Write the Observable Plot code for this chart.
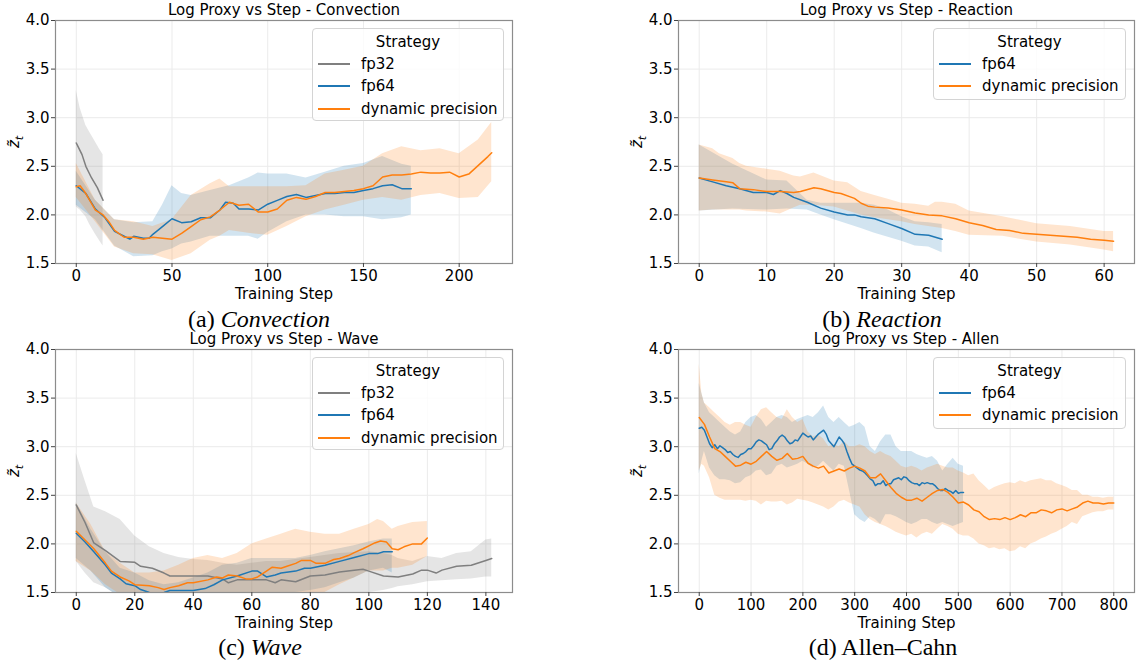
<!DOCTYPE html>
<html><head><meta charset="utf-8">
<script src="https://cdn.jsdelivr.net/npm/d3@7"></script>
<script src="https://cdn.jsdelivr.net/npm/@observablehq/plot@0.6"></script>
<style>
html,body{margin:0;padding:0;background:#fff;}
#root{position:relative;width:1137px;height:664px;overflow:hidden;font-family:"DejaVu Sans";color:#000;}
.panel{position:absolute;}
.legend{position:absolute;box-sizing:border-box;border:1px solid #d4d4d4;border-radius:4px;background:rgba(255,255,255,0.8);font-size:15px;font-family:"DejaVu Sans";}
.lg-title{position:absolute;left:0;width:100%;text-align:center;transform:translateY(-50%);white-space:nowrap;}
.lg-sw{position:absolute;height:0;border-top:2px solid;transform:translateY(-1px);}
.lg-tx{position:absolute;transform:translateY(-50%);white-space:nowrap;}
.ylab{position:absolute;font-family:"DejaVu Sans";font-style:italic;font-size:15px;transform:translate(-50%,-50%) rotate(-90deg);white-space:nowrap;}
.ylab sub{font-size:11px;}
.cap{position:absolute;font-family:"Liberation Serif","Times New Roman",serif;font-size:24px;transform:translate(-50%,-50%);white-space:nowrap;}
</style></head>
<body><div id="root"></div>
<script>
// ---------- shared ----------
const strategies = ["fp32", "fp64", "dynamic precision"];
const colors = {"fp32": "#7f7f7f", "fp64": "#1f77b4", "dynamic precision": "#ff7f0e"};
const yTicks = [1.5, 2.0, 2.5, 3.0, 3.5, 4.0];

// ---------- (a) Convection ----------
const convTicks = [0, 50, 100, 150, 200];
const convFp32Steps = [0, 1, 3, 5, 8, 11, 14];
const convFp32Mean = [2.74, 2.70, 2.62, 2.50, 2.38, 2.28, 2.15];
const convFp32BandSteps = [0, 2, 5, 7, 10, 12, 14];
const convFp32Hi = [3.28, 3.10, 2.92, 2.85, 2.75, 2.68, 2.62];
const convFp32Lo = [2.08, 2.05, 1.98, 1.90, 1.80, 1.74, 1.68];

const convFp64Steps = [0,5,10,15,20,25,28,30,35,38,40,45,50,55,60,65,70,75,78,82,85,90,95,100,105,110,115,120,125,130,135,140,145,150,155,160,165,170,175];
const convFp64Mean = [2.30,2.22,2.06,1.97,1.83,1.78,1.75,1.78,1.76,1.76,1.80,1.88,1.96,1.92,1.93,1.97,1.97,2.05,2.13,2.12,2.06,2.06,2.05,2.11,2.15,2.19,2.21,2.18,2.20,2.22,2.22,2.23,2.23,2.25,2.27,2.30,2.31,2.27,2.27];
const convFp64BandSteps = [0,10,20,30,40,45,50,55,60,70,80,90,95,100,110,120,130,140,150,160,170,175];
const convFp64Hi = [2.45,2.15,1.95,1.92,1.93,2.10,2.30,2.22,2.20,2.25,2.30,2.38,2.43,2.42,2.42,2.38,2.44,2.50,2.53,2.60,2.52,2.50];
const convFp64Lo = [2.10,1.95,1.68,1.57,1.58,1.62,1.65,1.70,1.72,1.78,1.78,1.78,1.75,1.82,1.93,2.00,2.00,1.98,1.98,1.95,1.97,2.00];

const convDynSteps = [0,2,5,10,14,17,20,25,30,35,40,45,50,55,60,65,70,75,80,85,90,95,100,105,110,115,120,125,130,135,140,145,150,155,160,165,170,175,180,185,190,195,200,205,210,215,217];
const convDynMean = [2.29,2.30,2.22,2.05,2.00,1.93,1.84,1.77,1.77,1.75,1.77,1.76,1.75,1.81,1.88,1.95,1.98,2.05,2.13,2.10,2.11,2.03,2.03,2.06,2.15,2.18,2.16,2.19,2.23,2.23,2.24,2.25,2.27,2.30,2.39,2.41,2.41,2.42,2.44,2.43,2.43,2.44,2.39,2.42,2.51,2.60,2.64];
const convDynBandSteps = [0,10,20,30,40,50,60,70,75,80,90,100,110,120,130,140,150,160,170,180,190,200,210,217];
const convDynHi = [2.53,2.15,1.95,1.93,1.88,1.95,2.20,2.32,2.37,2.29,2.29,2.29,2.29,2.30,2.42,2.46,2.50,2.63,2.70,2.66,2.68,2.63,2.77,2.95];
const convDynLo = [2.18,1.93,1.67,1.60,1.59,1.53,1.60,1.74,1.78,1.84,1.81,1.79,1.88,1.98,2.05,2.10,2.15,2.18,2.15,2.20,2.22,2.17,2.18,2.34];

// ---------- (b) Reaction ----------
const reacTicks = [0, 10, 20, 30, 40, 50, 60];
const reacFp64Steps = [0,2,4,6,8,10,11,12,13,14,16,18,20,22,23,24,26,28,30,32,34,36];
const reacFp64Mean = [2.38,2.34,2.30,2.27,2.23,2.23,2.21,2.25,2.22,2.18,2.13,2.07,2.03,2.00,2.00,1.98,1.96,1.91,1.86,1.80,1.79,1.75];
const reacFp64BandSteps = [0,5,10,13,16,18,20,24,26,28,30,32,34,36];
const reacFp64Hi = [2.72,2.52,2.36,2.35,2.15,2.12,2.12,2.12,2.10,2.05,1.98,1.93,1.92,1.90];
const reacFp64Lo = [2.04,2.06,2.05,2.06,2.05,2.00,1.95,1.86,1.81,1.77,1.73,1.68,1.67,1.61];

const reacDynSteps = [0,2,4,5,6,8,10,12,14,15,17,18,20,21,23,24,25,26,28,30,32,34,36,38,40,42,44,46,48,50,52,54,56,58,60,61.4];
const reacDynMean = [2.38,2.36,2.34,2.33,2.27,2.26,2.24,2.24,2.23,2.24,2.28,2.27,2.23,2.22,2.17,2.12,2.09,2.08,2.07,2.05,2.02,2.00,1.99,1.96,1.92,1.89,1.85,1.84,1.81,1.80,1.79,1.78,1.77,1.75,1.74,1.73];
const reacDynBandSteps = [0,2,3,5,6,7,10,12,14,15,17,20,22,24,26,28,30,32,34,35,36,38,40,45,50,55,60,61.4];
const reacDynHi = [2.72,2.68,2.63,2.58,2.53,2.50,2.47,2.45,2.40,2.39,2.43,2.35,2.33,2.24,2.20,2.16,2.12,2.11,2.09,2.13,2.13,2.11,2.04,1.98,1.91,1.88,1.83,1.83];
const reacDynLo = [2.04,2.05,2.05,2.05,2.05,2.04,2.03,2.01,2.07,2.10,2.10,2.08,2.04,2.00,1.97,1.95,1.93,1.90,1.88,1.87,1.86,1.83,1.79,1.78,1.72,1.69,1.64,1.62];

// ---------- (c) Wave ----------
const waveTicks = [0, 20, 40, 60, 80, 100, 120, 140];
const waveFp32Steps = [0,3,6,10,15,20,22,26,30,32,40,45,50,52,55,60,65,68,70,75,80,85,90,95,98,100,105,110,115,118,120,123,125,130,135,140,142];
const waveFp32Mean = [2.40,2.22,2.01,1.93,1.82,1.81,1.77,1.75,1.70,1.67,1.67,1.67,1.64,1.60,1.63,1.63,1.63,1.60,1.63,1.61,1.67,1.68,1.71,1.73,1.74,1.72,1.67,1.66,1.69,1.73,1.73,1.70,1.73,1.77,1.78,1.83,1.85];
const waveFp32BandSteps = [0,3,6,10,15,20,25,30,35,40,45,50,55,60,65,70,80,90,100,105,108,110,115,120,125,130,135,140,142];
const waveFp32Hi = [2.93,2.65,2.38,2.33,2.25,2.08,1.97,1.90,1.86,1.84,1.83,1.80,1.78,1.80,1.82,1.82,1.86,1.90,1.92,1.90,1.88,1.85,1.82,1.87,1.85,1.90,1.92,2.04,2.05];
const waveFp32Lo = [1.82,1.70,1.60,1.55,1.45,1.40,1.38,1.40,1.42,1.42,1.42,1.42,1.42,1.42,1.42,1.40,1.45,1.48,1.50,1.52,1.54,1.56,1.58,1.61,1.62,1.63,1.64,1.66,1.66];

const waveFp64Steps = [0,3,6,10,12,15,17,20,22,25,28,30,32,35,40,44,47,50,55,60,62,65,68,70,75,78,80,85,90,95,100,103,105,108];
const waveFp64Mean = [2.11,2.02,1.92,1.78,1.70,1.64,1.59,1.57,1.53,1.50,1.49,1.50,1.52,1.52,1.52,1.54,1.58,1.63,1.67,1.72,1.72,1.66,1.68,1.70,1.72,1.75,1.75,1.78,1.82,1.86,1.90,1.90,1.92,1.92];
const waveFp64BandSteps = [0,5,10,15,20,25,30,35,40,45,50,55,60,65,70,75,80,85,90,95,100,105,108];
const waveFp64Hi = [2.42,2.15,1.92,1.75,1.70,1.62,1.58,1.60,1.65,1.70,1.78,1.80,1.85,1.85,1.85,1.85,1.88,1.92,1.95,1.98,2.02,2.05,2.05];
const waveFp64Lo = [1.85,1.72,1.55,1.45,1.40,1.35,1.35,1.35,1.35,1.38,1.40,1.42,1.45,1.47,1.48,1.50,1.52,1.55,1.60,1.65,1.72,1.75,1.70];

const waveDynSteps = [0,3,6,10,12,15,18,20,25,28,30,32,35,38,40,45,48,50,52,55,58,60,62,65,67,70,72,75,77,80,82,85,88,90,93,95,98,100,102,104,106,108,110,112,115,118,120];
const waveDynMean = [2.13,2.04,1.95,1.80,1.72,1.66,1.62,1.58,1.57,1.55,1.53,1.55,1.57,1.60,1.60,1.63,1.66,1.65,1.68,1.67,1.64,1.64,1.66,1.72,1.76,1.75,1.77,1.80,1.83,1.83,1.80,1.80,1.84,1.85,1.88,1.91,1.95,1.98,2.01,2.03,2.02,1.95,1.94,1.97,2.00,2.00,2.06];
const waveDynBandSteps = [0,5,10,15,20,25,30,35,40,45,50,55,60,65,70,75,80,85,90,95,100,103,105,108,110,115,120];
const waveDynHi = [2.42,2.20,1.92,1.80,1.70,1.70,1.72,1.78,1.85,1.88,1.85,1.90,2.00,2.05,2.10,2.15,2.12,2.10,2.10,2.15,2.20,2.25,2.23,2.15,2.18,2.22,2.23];
const waveDynLo = [1.82,1.72,1.58,1.48,1.43,1.40,1.38,1.38,1.38,1.39,1.40,1.42,1.45,1.45,1.45,1.46,1.48,1.50,1.58,1.65,1.72,1.72,1.72,1.75,1.75,1.78,1.87];

// ---------- (d) Allen ----------
const allenTicks = [0, 100, 200, 300, 400, 500, 600, 700, 800];
const allenFp64Steps = [0,5,10,15,20,25,30,35,40,45,50,55,60,65,70,75,80,85,90,95,100,105,110,115,120,125,130,135,140,145,150,155,160,165,170,175,180,185,190,195,200,205,210,215,220,225,230,235,240,245,250,255,260,265,270,275,280,285,290,295,300,305,310,315,320,325,330,335,340,345,350,355,360,365,370,375,380,385,390,395,400,405,410,415,420,425,430,435,440,445,450,455,460,465,470,475,480,485,490,495,500,505,510];
const allenFp64Mean = [3.19,3.20,3.17,3.10,3.03,2.99,3.02,2.98,3.01,2.99,
  2.97,2.94,2.95,2.92,2.90,2.89,2.92,2.93,2.95,2.98,
  2.98,3.01,3.05,3.07,3.06,3.04,3.02,2.97,2.98,3.03,
  3.06,3.10,3.12,3.10,3.06,3.03,3.04,3.07,3.06,3.10,
  3.14,3.12,3.10,3.11,3.07,3.10,3.13,3.15,3.17,3.13,
  3.06,3.03,3.00,3.05,3.10,3.07,3.03,2.95,2.88,2.82,
  2.80,2.78,2.76,2.75,2.73,2.70,2.67,2.65,2.60,2.62,
  2.62,2.65,2.60,2.62,2.62,2.66,2.67,2.68,2.66,2.69,
  2.68,2.65,2.63,2.62,2.62,2.60,2.63,2.62,2.63,2.62,
  2.62,2.60,2.57,2.55,2.55,2.57,2.55,2.54,2.52,2.55,
  2.52,2.53,2.53];
const allenFp64BandSteps = [0,5,10,20,30,40,50,60,70,80,90,100,110,120,130,140,150,160,170,180,190,200,210,220,230,240,250,260,270,280,290,300,310,320,330,340,350,360,370,380,390,400,410,420,430,440,450,460,470,480,490,500,510];
const allenFp64Hi = [3.65,3.55,3.45,3.35,3.30,3.25,3.20,3.15,3.12,3.15,3.25,3.30,3.32,3.28,3.20,3.25,3.30,3.32,3.30,3.25,3.28,3.30,3.32,3.30,3.35,3.42,3.30,3.25,3.30,3.25,3.20,3.22,3.25,3.20,3.00,2.95,3.05,3.12,3.12,3.00,2.95,2.95,2.95,2.92,2.90,2.88,2.90,2.85,2.75,2.82,2.88,2.82,2.80];
const allenFp64Lo = [2.72,2.85,2.95,2.78,2.70,2.66,2.66,2.65,2.62,2.63,2.68,2.70,2.75,2.76,2.70,2.72,2.80,2.82,2.78,2.80,2.82,2.85,2.82,2.78,2.80,2.85,2.80,2.75,2.82,2.80,2.55,2.30,2.25,2.22,2.28,2.25,2.20,2.30,2.30,2.28,2.25,2.22,2.20,2.22,2.25,2.25,2.22,2.20,2.22,2.20,2.18,2.20,2.22];

const allenDynSteps = [0,10,20,30,40,50,60,70,80,90,100,110,120,130,140,150,160,170,180,190,200,210,220,230,240,250,260,270,280,290,300,310,320,330,340,350,360,370,380,390,400,410,420,430,440,450,460,470,480,490,500,510,520,530,540,550,560,570,580,590,600,610,620,630,640,650,660,670,680,690,700,710,720,730,740,750,760,770,780,790,800];
const allenDynMean = [3.30,3.23,3.10,2.98,2.95,
  2.90,2.85,2.80,2.81,2.84,
  2.82,2.85,2.90,2.95,2.90,
  2.86,2.88,2.93,2.87,2.88,
  2.90,2.83,2.80,2.78,2.80,
  2.73,2.75,2.77,2.75,2.78,
  2.80,2.78,2.75,2.68,2.68,
  2.72,2.65,2.58,2.52,2.48,
  2.45,2.45,2.47,2.44,2.48,
  2.52,2.55,2.56,2.53,2.48,
  2.42,2.43,2.40,2.35,2.33,
  2.28,2.25,2.26,2.25,2.27,
  2.25,2.27,2.30,2.28,2.32,
  2.32,2.35,2.34,2.32,2.35,
  2.36,2.34,2.36,2.38,2.42,
  2.44,2.42,2.42,2.41,2.42,
  2.42];
const allenDynBandSteps = [0,5,10,20,30,40,50,60,70,80,90,100,110,120,130,140,150,160,170,180,190,200,210,220,230,240,250,260,270,280,290,300,310,320,330,340,350,360,370,380,390,400,410,420,430,440,450,460,470,480,490,500,510,520,530,540,550,560,570,580,590,600,610,620,630,640,650,660,670,680,690,700,710,720,730,740,750,760,770,780,790,800];
const allenDynHi = [3.85,3.55,
  3.45,3.40,3.35,3.30,3.25,
  3.22,3.25,3.25,3.22,3.20,
  3.30,3.38,3.40,3.35,3.30,
  3.28,3.38,3.30,3.25,3.28,
  3.15,3.10,3.12,3.08,3.00,
  3.02,3.00,3.05,3.00,3.00,
  3.02,3.00,2.95,2.92,2.95,
  2.92,2.90,2.85,2.80,2.78,
  2.80,2.78,2.75,2.78,2.80,
  2.82,2.80,2.78,2.78,2.75,
  2.73,2.70,2.72,2.65,2.60,
  2.55,2.58,2.60,2.62,2.63,
  2.62,2.65,2.63,2.65,2.66,
  2.67,2.65,2.65,2.62,2.60,
  2.58,2.55,2.55,2.50,2.50,
  2.48,2.48,2.47,2.48,2.48];
const allenDynLo = [2.75,2.82,
  2.80,2.68,2.50,2.47,2.45,
  2.45,2.45,2.45,2.44,2.45,
  2.44,2.40,2.44,2.43,2.43,
  2.44,2.40,2.42,2.46,2.45,
  2.44,2.42,2.40,2.38,2.35,
  2.38,2.43,2.45,2.42,2.40,
  2.38,2.30,2.25,2.22,2.20,
  2.18,2.15,2.12,2.10,2.08,
  2.10,2.06,2.10,2.12,2.10,
  2.15,2.20,2.18,2.15,2.10,
  2.08,2.08,2.05,2.00,1.98,
  1.95,1.96,1.94,1.95,1.92,
  1.93,1.97,1.95,2.00,2.02,
  2.05,2.07,2.10,2.12,2.15,
  2.18,2.22,2.20,2.28,2.30,
  2.32,2.33,2.33,2.35,2.35];

// ---------- builders ----------
const pts = (steps, vals) => steps.map((s, i) => ({s, v: vals[i]}));
const band = (steps, lo, hi) => steps.map((s, i) => ({s, lo: lo[i], hi: hi[i]}));

const panels = [
  {left: 0, top: 0, width: 540, ml: 55, mr: 28, xDomain: [-10.85, 227.85], xTicks: convTicks,
   title: "Log Proxy vs Step - Convection",
   legend: {left: 312, top: 28, w: 192, h: 93},
   series: [
    {name: "fp32", line: pts(convFp32Steps, convFp32Mean), band: band(convFp32BandSteps, convFp32Lo, convFp32Hi)},
    {name: "fp64", line: pts(convFp64Steps, convFp64Mean), band: band(convFp64BandSteps, convFp64Lo, convFp64Hi)},
    {name: "dynamic precision", line: pts(convDynSteps, convDynMean), band: band(convDynBandSteps, convDynLo, convDynHi)}
   ]},
  {left: 610, top: 0, width: 527, ml: 68, mr: 3, xDomain: [-3.07, 64.5], xTicks: reacTicks,
   title: "Log Proxy vs Step - Reaction",
   legend: {left: 933, top: 28, w: 193, h: 72},
   series: [
    {name: "fp64", line: pts(reacFp64Steps, reacFp64Mean), band: band(reacFp64BandSteps, reacFp64Lo, reacFp64Hi)},
    {name: "dynamic precision", line: pts(reacDynSteps, reacDynMean), band: band(reacDynBandSteps, reacDynLo, reacDynHi)}
   ]},
  {left: 0, top: 329, width: 540, ml: 55, mr: 28, xDomain: [-7.1, 149.1], xTicks: waveTicks,
   title: "Log Proxy vs Step - Wave",
   legend: {left: 312, top: 357, w: 192, h: 93},
   series: [
    {name: "fp32", line: pts(waveFp32Steps, waveFp32Mean), band: band(waveFp32BandSteps, waveFp32Lo, waveFp32Hi)},
    {name: "fp64", line: pts(waveFp64Steps, waveFp64Mean), band: band(waveFp64BandSteps, waveFp64Lo, waveFp64Hi)},
    {name: "dynamic precision", line: pts(waveDynSteps, waveDynMean), band: band(waveDynBandSteps, waveDynLo, waveDynHi)}
   ]},
  {left: 610, top: 329, width: 527, ml: 68, mr: 3, xDomain: [-40, 840], xTicks: allenTicks,
   title: "Log Proxy vs Step - Allen",
   legend: {left: 933, top: 357, w: 193, h: 72},
   series: [
    {name: "fp64", line: pts(allenFp64Steps, allenFp64Mean), band: band(allenFp64BandSteps, allenFp64Lo, allenFp64Hi)},
    {name: "dynamic precision", line: pts(allenDynSteps, allenDynMean), band: band(allenDynBandSteps, allenDynLo, allenDynHi)}
   ]}
];

const captions = [
  {x: 259, y: 319, label: "(a) ", it: "Convection"},
  {x: 882, y: 319, label: "(b) ", it: "Reaction"},
  {x: 260, y: 647, label: "(c) ", it: "Wave"},
  {x: 883, y: 647, label: "(d) Allen–Cahn", it: ""}
];

const root = document.getElementById("root");
const H = 300, MT = 20, MB = 37;

for (const p of panels) {
  const marks = [
    Plot.gridX(p.xTicks, {stroke: "#ebebeb", strokeOpacity: 1, strokeWidth: 1}),
    Plot.gridY(yTicks, {stroke: "#ebebeb", strokeOpacity: 1, strokeWidth: 1}),
    ...p.series.map(s => Plot.areaY(s.band, {x: "s", y1: "lo", y2: "hi", fill: colors[s.name], fillOpacity: 0.2, clip: true})),
    ...p.series.map(s => Plot.line(s.line, {x: "s", y: "v", stroke: colors[s.name], strokeWidth: 1.5, clip: true})),
    Plot.frame({stroke: "#8c8c8c", strokeWidth: 1.2}),
    Plot.axisX(p.xTicks, {tickSize: 4, tickPadding: 3, stroke: "#444", label: null, fontSize: 15}),
    Plot.axisY(yTicks, {tickSize: 4, tickPadding: 2, stroke: "#444", tickFormat: d3.format(".1f"), label: null, fontSize: 15}),
    Plot.text([p.title], {frameAnchor: "top", lineAnchor: "middle", dy: -10, fontSize: 15, text: d => d}),
    Plot.text(["Training Step"], {frameAnchor: "bottom", lineAnchor: "middle", dy: 31, fontSize: 15, text: d => d})
  ];
  const svg = Plot.plot({
    width: p.width, height: H,
    marginLeft: p.ml, marginRight: p.mr, marginTop: MT, marginBottom: MB,
    x: {domain: p.xDomain},
    y: {domain: [1.5, 4.0]},
    style: {fontFamily: "DejaVu Sans", fontSize: "15px", color: "#000", background: "transparent", overflow: "visible"},
    marks
  });
  const wrap = document.createElement("div");
  wrap.className = "panel";
  wrap.style.left = p.left + "px";
  wrap.style.top = p.top + "px";
  wrap.appendChild(svg);
  root.appendChild(wrap);

  // y label
  const yl = document.createElement("div");
  yl.className = "ylab";
  yl.innerHTML = "z&#771;<sub>t</sub>";
  yl.style.left = (p.left + p.ml - 40) + "px";
  yl.style.top = (p.top + MT + (H - MT - MB) / 2) + "px";
  root.appendChild(yl);

  // legend
  const L = p.legend;
  const lg = document.createElement("div");
  lg.className = "legend";
  Object.assign(lg.style, {left: L.left + "px", top: L.top + "px", width: L.w + "px", height: L.h + "px"});
  const t = document.createElement("div");
  t.className = "lg-title"; t.style.top = "13px"; t.textContent = "Strategy";
  lg.appendChild(t);
  p.series.forEach((s, i) => {
    const y = 35 + 22.3 * i;
    const sw = document.createElement("div");
    sw.className = "lg-sw";
    Object.assign(sw.style, {left: "5px", top: y + "px", width: "32px", borderTopColor: colors[s.name]});
    const tx = document.createElement("div");
    tx.className = "lg-tx";
    Object.assign(tx.style, {left: "48px", top: y + "px"});
    tx.textContent = s.name;
    lg.appendChild(sw); lg.appendChild(tx);
  });
  root.appendChild(lg);
}

for (const c of captions) {
  const d = document.createElement("div");
  d.className = "cap";
  d.style.left = c.x + "px";
  d.style.top = c.y + "px";
  d.innerHTML = c.label + (c.it ? "<i>" + c.it + "</i>" : "");
  root.appendChild(d);
}
</script>
</body></html>
